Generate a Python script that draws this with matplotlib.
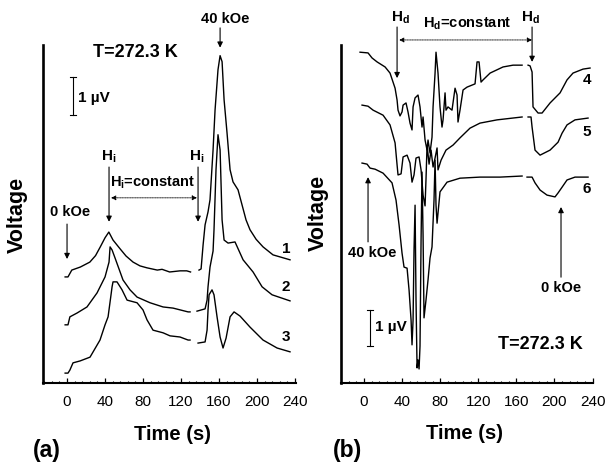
import numpy as np
import matplotlib
matplotlib.use('Agg')
import matplotlib.pyplot as plt
from matplotlib.ticker import MultipleLocator

plt.rcParams['font.family'] = ['Liberation Sans', 'DejaVu Sans']
plt.rcParams['mathtext.fontset'] = 'custom'
plt.rcParams['mathtext.rm'] = 'Liberation Sans'
plt.rcParams['mathtext.bf'] = 'Liberation Sans:bold'
plt.rcParams['mathtext.it'] = 'Liberation Sans:italic'

nan = np.nan

# panel (a): time (s) and voltage (uV, offset traces), nan = pen gap
t1 = [-2, 1, 5, 14, 24, 30, 35, 40, 44, 48.4, 55.8, 62.1, 69.5, 76.8, 84, 95, 100, 108,
      119, 126, 130, nan,
      138.9, 141.1, 143.2, 145.3, 148.4, 150.5, 153.7, 155.8, 158.9, 161.1, 163.2, 165.3,
      168.4, 171.6, 174.7, 180, 188.4, 192.6, 199, 206.3, 216.8, 234.7]
v1 = [2.79, 2.79, 2.97, 3.05, 3.18, 3.35, 3.58, 3.82, 3.97, 3.76, 3.53, 3.34, 3.18, 3.08,
      3.03, 2.97, 2.99, 2.92, 2.95, 2.95, 2.92, nan,
      2.97, 3.00, 3.63, 4.16, 4.50, 4.82, 6.13, 7.18, 8.24, 8.61, 8.45, 7.45,
      6.58, 5.61, 5.29, 5.08, 4.29, 4.03, 3.78, 3.58, 3.37, 3.24]
t2 = [-2, 1, 3, 10.5, 21, 31.6, 40, 44.2, 45.3, 47.4, 50.5, 58.9, 66.3, 73.7, 87.4, 101.1,
      111.6, 127.4, 129.5, nan,
      136.8, 145.3, 147.4, 148.4, 150.5, 153.7, 154.7, 156.8, 158.9, 161.1, 163.2, 165.3,
      169.5, 176.8, 185.3, 195.8, 205.3, 215.8, 234.7]
v2 = [1.53, 1.53, 1.74, 1.84, 2.00, 2.37, 2.79, 3.18, 3.58, 3.50, 3.29, 2.71, 2.45, 2.26,
      2.11, 2.00, 1.97, 1.87, 1.87, nan,
      1.89, 1.95, 2.18, 2.53, 3.05, 3.47, 4.03, 5.61, 6.53, 6.13, 4.29, 3.76,
      3.68, 3.71, 3.24, 2.92, 2.53, 2.32, 2.16]
t3 = [-2, 1, 3, 6.3, 13.7, 24.2, 34.7, 40, 43.2, 46.3, 47.4, 48.4, 52.6, 57.9, 63.2, 73.7,
      80, 84.2, 90.5, 101.1, 108.4, 118.9, 127.4, 129.5, nan,
      137.9, 145.3, 147.4, 148.4, 149.5, 152.6, 154.7, 157.9, 161.1, 164.2, 167.4, 171.6,
      175.8, 182.1, 192.6, 206.3, 221.1, 234.7]
v3 = [0.26, 0.26, 0.34, 0.53, 0.58, 0.68, 1.13, 1.53, 1.74, 2.32, 2.53, 2.66, 2.66, 2.45,
      2.18, 2.11, 1.92, 1.66, 1.39, 1.32, 1.24, 1.21, 1.13, 1.13, nan,
      1.05, 1.08, 1.39, 1.92, 2.32, 2.45, 2.32, 1.74, 1.21, 0.92, 1.18, 1.74,
      1.87, 1.76, 1.47, 1.13, 0.92, 0.82]

# panel (b)
t4 = [-4.2, 4.2, 8.4, 13.7, 22.1, 27.3, 32.6, 34.7, 35.7, 37.8, 39.9, 41.0, 44.1, 46.2,
      48.3, 50.4, 51.5, 53.6, 56.7, 58.8, 60.9, 62.0, 64.1, 66.2, 67.2, 69.3, 71.4, 72.5,
      74.6, 75.6, 77.7, 79.8, 81.9, 83.0, 85.1, 86.1, 88.2, 92.4, 95.6, 97.7, 98.7, 100.8,
      104.0, 108.2, 116.6, 118.7, 120.8, 122.9, 125.0, 132.4, 146.0, 156.5, 166.0, nan,
      172.3, 174.4, 176.5, 177.5, 182.8, 187.0, 195.4, 205.9, 213.2, 219.5, 230.0, 237.4]
v4 = [9.19, 9.17, 9.03, 8.92, 8.78, 8.61, 8.19, 7.86, 7.58, 7.42, 7.53, 7.72, 7.78, 7.53,
      7.22, 7.03, 7.67, 7.92, 8.00, 7.67, 7.11, 7.39, 6.75, 6.47, 6.75, 6.39, 6.83, 7.67,
      8.61, 9.19, 8.61, 7.67, 7.11, 7.31, 8.06, 7.58, 7.67, 7.58, 8.19, 8.00, 7.25, 7.58,
      8.14, 8.22, 8.31, 8.92, 8.92, 8.36, 8.42, 8.61, 8.78, 8.83, 8.83, nan,
      8.83, 8.81, 8.64, 7.67, 7.50, 7.50, 7.78, 8.06, 8.42, 8.61, 8.72, 8.75]
t5 = [-2.1, 4.2, 9.5, 20.0, 27.3, 32.6, 34.7, 35.7, 38.9, 41.0, 45.2, 48.3, 50.4, 52.5,
      54.6, 57.8, 59.9, 62.0, 64.1, 65.1, 66.2, 68.3, 70.4, 72.5, 74.6, 76.7, 77.7, 80.9,
      86.1, 93.5, 100.8, 111.3, 121.8, 139.7, 166.0, nan,
      172.3, 175.4, 176.5, 179.6, 184.9, 195.4, 203.8, 208.0, 213.2, 221.6, 235.3]
v5 = [7.72, 7.69, 7.58, 7.44, 7.17, 6.67, 6.06, 5.78, 5.81, 6.28, 6.33, 6.11, 5.58, 5.78,
      6.25, 6.28, 5.92, 5.22, 4.92, 5.67, 6.61, 6.08, 6.47, 6.00, 6.25, 6.53, 5.92, 6.19,
      6.47, 6.61, 6.81, 7.08, 7.22, 7.31, 7.39, nan,
      7.39, 7.39, 7.11, 6.47, 6.33, 6.47, 6.69, 6.94, 7.17, 7.31, 7.36]
t6 = [-2.1, 3.2, 6.3, 11.6, 20.0, 29.4, 33.6, 36.8, 39.9, 42.0, 45.2, 47.3, 49.4, 50.4,
      51.5, 52.5, 53.6, 54.6, 55.7, 56.7, 57.8, 58.8, 59.9, 60.9, 62.0, 63.0, 65.1, 67.2,
      69.3, 71.4, 73.5, 74.6, 75.6, 76.7, 79.8, 87.2, 100.8, 121.8, 142.9, 166.0, nan,
      171.2, 176.5, 179.6, 184.9, 192.2, 200.6, 203.8, 208.0, 213.2, 221.6, 235.3]
v6 = [6.11, 6.08, 5.97, 5.94, 5.83, 5.56, 5.08, 4.39, 3.61, 3.22, 3.19, 2.58, 1.75, 1.06,
      1.75, 3.69, 4.94, 2.31, 0.42, 0.64, 0.39, 1.03, 3.97, 5.86, 4.11, 1.81, 2.31, 2.86,
      3.47, 3.78, 5.08, 6.19, 4.94, 4.44, 5.31, 5.58, 5.69, 5.72, 5.72, 5.75, nan,
      5.72, 5.72, 5.56, 5.36, 5.22, 5.17, 5.28, 5.44, 5.64, 5.72, 5.72]

xticks = [0, 40, 80, 120, 160, 200, 240]

fig = plt.figure(figsize=(6.08, 4.68), dpi=100)
ax_a = fig.add_axes([43 / 608, 85 / 468, 253 / 608, 338 / 468])
ax_b = fig.add_axes([341 / 608, 85 / 468, 252 / 608, 338 / 468])


def style(ax, xlim, ylim, xlab, ylab):
    ax.set_xlim(*xlim)
    ax.set_ylim(*ylim)
    for s in ['top', 'right']:
        ax.spines[s].set_visible(False)
    ax.spines['left'].set_linewidth(1.9)
    ax.spines['bottom'].set_linewidth(1.5)
    ax.set_yticks([])
    ax.set_xticks(xticks)
    ax.xaxis.set_minor_locator(MultipleLocator(8))
    ax.tick_params(axis='x', which='major', direction='in', length=3.5, width=0.9,
                   labelsize=11, pad=8.5)
    ax.tick_params(axis='x', which='minor', direction='in', length=1.8, width=0.8)
    ax.set_xlabel('Time (s)', fontsize=14.5, fontweight='bold')
    ax.xaxis.set_label_coords(*xlab)
    ax.xaxis.label.set_verticalalignment('center')
    ax.set_ylabel('Voltage', fontsize=15.5, fontweight='bold')
    ax.yaxis.set_label_coords(*ylab)
    ax.yaxis.label.set_verticalalignment('center')


def arrow(ax, head, tail, dotted=False):
    if dotted:
        props = dict(arrowstyle='<|-|>', color='k', lw=0.6, linestyle=(0, (1, 1)),
                     mutation_scale=7, shrinkA=0, shrinkB=0)
    else:
        props = dict(arrowstyle='-|>', color='k', lw=0.8, mutation_scale=8,
                     shrinkA=0, shrinkB=0)
    ax.annotate('', xy=head, xytext=tail, arrowprops=props, annotation_clip=False)


def scalebar(ax, t, v0, v1):
    ax.plot([t, t], [v0, v1], color='k', lw=0.8)
    ax.plot([t - 3, t + 3], [v0, v0], color='k', lw=0.8)
    ax.plot([t - 3, t + 3], [v1, v1], color='k', lw=0.8)


# (a)
style(ax_a, (-25.3, 241), (0, 8.89), (0.51, -0.151), (-0.103, 0.497))
for t, v in [(t1, v1), (t2, v2), (t3, v3)]:
    ax_a.plot(t, v, color='k', lw=1.0, clip_on=False)
for lab, vv in [('1', 3.53), ('2', 2.53), ('3', 1.21)]:
    ax_a.text(230.5, vv, lab, fontsize=11, fontweight='bold', ha='center', va='center')
ax_a.text(71.6, 8.68, 'T=272.3 K', fontsize=13, fontweight='bold', ha='center', va='center')
scalebar(ax_a, 6.3, 7.05, 8.05)
ax_a.text(11.6, 7.5, '1 \u00b5V', fontsize=11, fontweight='bold', ha='left', va='center')
ax_a.text(166.3, 9.58, '40 kOe', fontsize=10.5, fontweight='bold', ha='center', va='center')
arrow(ax_a, (161.1, 8.82), (161.1, 9.34))
ax_a.text(44.2, 5.95, r'$\mathbf{H_i}$', fontsize=11, ha='center', va='center')
arrow(ax_a, (44.2, 4.24), (44.2, 5.68))
ax_a.text(136.8, 5.95, r'$\mathbf{H_i}$', fontsize=11, ha='center', va='center')
arrow(ax_a, (137.9, 4.24), (137.9, 5.68))
ax_a.text(90.5, 5.26, r'$\mathbf{H_i}$=constant', fontsize=10.5, fontweight='bold',
          ha='center', va='center')
arrow(ax_a, (46.3, 4.87), (136.8, 4.87), dotted=True)
ax_a.text(3.2, 4.5, '0 kOe', fontsize=10.5, fontweight='bold', ha='center', va='center')
arrow(ax_a, (0, 3.26), (0, 4.18))

# (b)
style(ax_b, (-24.2, 240.5), (0, 9.39), (0.492, -0.148), (-0.091, 0.503))
for t, v in [(t4, v4), (t5, v5), (t6, v6)]:
    ax_b.plot(t, v, color='k', lw=1.0, clip_on=False)
for lab, vv in [('4', 8.42), ('5', 6.97), ('6', 5.39)]:
    ax_b.text(233.7, vv, lab, fontsize=11, fontweight='bold', ha='center', va='center')
ax_b.text(37.8, 10.14, r'$\mathbf{H_d}$', fontsize=11, ha='center', va='center')
arrow(ax_b, (34.7, 8.47), (34.7, 9.89))
ax_b.text(174.4, 10.14, r'$\mathbf{H_d}$', fontsize=11, ha='center', va='center')
arrow(ax_b, (176.5, 8.92), (176.5, 9.89))
ax_b.text(108.2, 9.97, r'$\mathbf{H_d}$=constant', fontsize=10.5, fontweight='bold',
          ha='center', va='center')
arrow(ax_b, (36.8, 9.53), (176.5, 9.53), dotted=True)
arrow(ax_b, (4.2, 5.72), (4.2, 3.92))
ax_b.text(8.4, 3.61, '40 kOe', fontsize=10.5, fontweight='bold', ha='center', va='center')
arrow(ax_b, (206.9, 4.89), (206.9, 2.94))
ax_b.text(206.9, 2.64, '0 kOe', fontsize=10.5, fontweight='bold', ha='center', va='center')
ax_b.text(184.9, 1.08, 'T=272.3 K', fontsize=13, fontweight='bold', ha='center', va='center')
scalebar(ax_b, 6.3, 1.03, 2.03)
ax_b.text(11.6, 1.56, '1 \u00b5V', fontsize=11, fontweight='bold', ha='left', va='center')

fig.text(47 / 608, 1 - 451 / 468, '(a)', fontsize=16.5, fontweight='bold',
         ha='center', va='center')
fig.text(347 / 608, 1 - 451 / 468, '(b)', fontsize=16.5, fontweight='bold',
         ha='center', va='center')

fig.savefig('out.png', dpi=100)
